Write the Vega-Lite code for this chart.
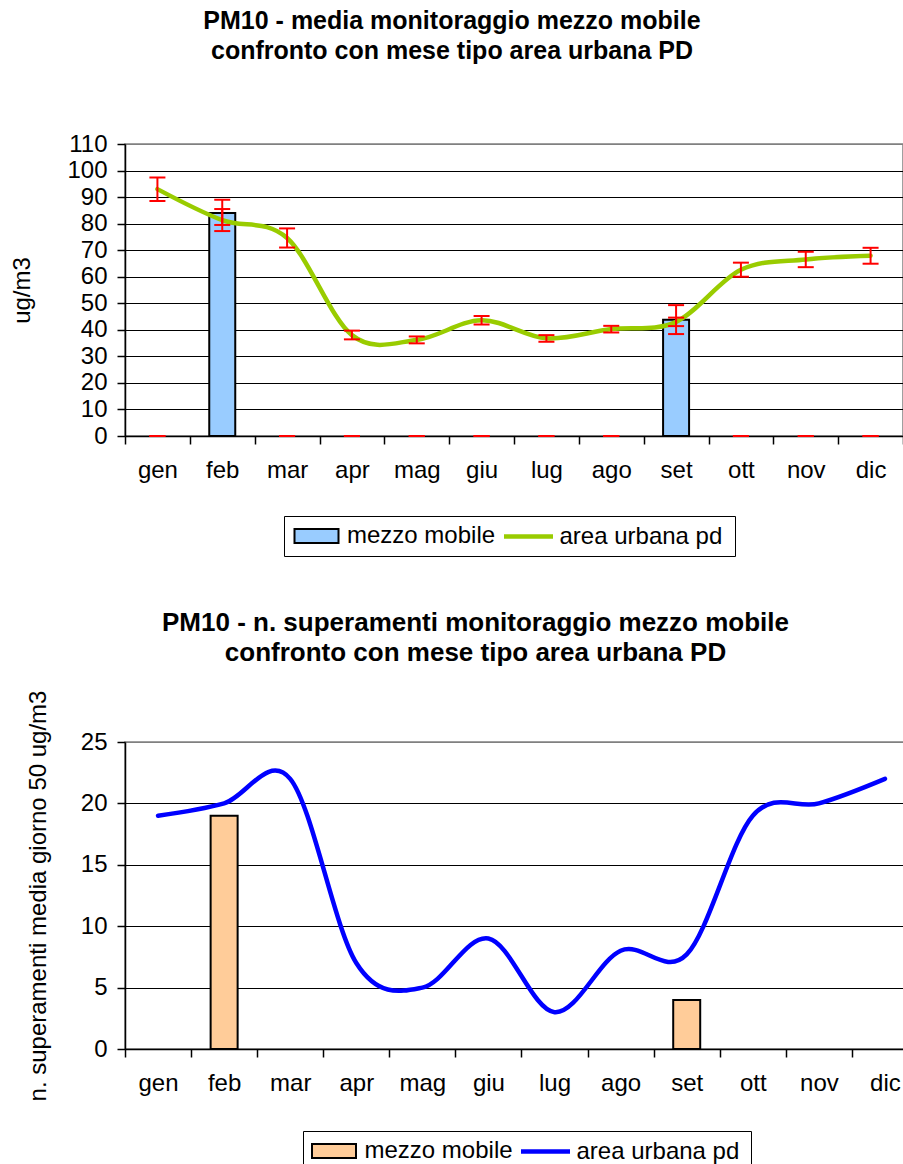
{
  "$schema": "https://vega.github.io/schema/vega-lite/v6.json",
  "padding": {"left": 9, "top": 8, "right": 0, "bottom": 0},
  "background": "white",
  "config": {
    "font": "Liberation Sans",
    "view": {"stroke": "#808080", "strokeWidth": 1.5},
    "axis": {"labelColor": "black", "titleColor": "black", "domainColor": "black", "tickColor": "black", "labelFontSize": 24, "titleFontSize": 24, "titleFontWeight": "normal", "domainWidth": 1.5, "tickWidth": 1.5, "labelOverlap": false},
    "legend": {"labelFontSize": 24, "labelColor": "black", "labelLimit": 0, "padding": 8, "symbolSize": 400, "labelOffset": 18.5, "direction": "horizontal", "orient": "none"}
  },
  "bounds": "flush",
  "spacing": 306,
  "resolve": {"scale": {"fill": "independent", "stroke": "independent"}, "legend": {"fill": "independent", "stroke": "independent"}},
  "vconcat": [
    {
      "width": 778,
      "height": 292,
      "title": {"text": ["PM10 -  media monitoraggio mezzo mobile", "confronto con mese tipo area urbana PD"], "fontSize": 25, "fontWeight": "bold", "anchor": "middle", "frame": "group", "dx": -62, "offset": 68, "lineHeight": 30, "color": "black"},
      "data": {"values": [
        {"mese": "gen", "mobile": 0, "m_lo": 0, "m_hi": 0, "urbana": 93.0, "u_lo": 88.5, "u_hi": 97.4},
        {"mese": "feb", "mobile": 84, "m_lo": 79.5, "m_hi": 89.0, "urbana": 81.3, "u_lo": 77.2, "u_hi": 85.5},
        {"mese": "mar", "mobile": 0, "m_lo": 0, "m_hi": 0, "urbana": 74.6, "u_lo": 71.0, "u_hi": 78.2},
        {"mese": "apr", "mobile": 0, "m_lo": 0, "m_hi": 0, "urbana": 38.0, "u_lo": 36.4, "u_hi": 39.7},
        {"mese": "mag", "mobile": 0, "m_lo": 0, "m_hi": 0, "urbana": 36.2, "u_lo": 34.9, "u_hi": 37.5},
        {"mese": "giu", "mobile": 0, "m_lo": 0, "m_hi": 0, "urbana": 43.6, "u_lo": 42.0, "u_hi": 45.2},
        {"mese": "lug", "mobile": 0, "m_lo": 0, "m_hi": 0, "urbana": 36.8, "u_lo": 35.5, "u_hi": 38.0},
        {"mese": "ago", "mobile": 0, "m_lo": 0, "m_hi": 0, "urbana": 40.3, "u_lo": 39.0, "u_hi": 41.5},
        {"mese": "set", "mobile": 43.8, "m_lo": 38.4, "m_hi": 49.3, "urbana": 43.0, "u_lo": 41.4, "u_hi": 44.6},
        {"mese": "ott", "mobile": 0, "m_lo": 0, "m_hi": 0, "urbana": 62.6, "u_lo": 60.0, "u_hi": 65.3},
        {"mese": "nov", "mobile": 0, "m_lo": 0, "m_hi": 0, "urbana": 66.5, "u_lo": 63.6, "u_hi": 69.4},
        {"mese": "dic", "mobile": 0, "m_lo": 0, "m_hi": 0, "urbana": 67.9, "u_lo": 64.9, "u_hi": 70.9}
      ]},
      "encoding": {
        "x": {"field": "mese", "type": "ordinal", "sort": ["gen", "feb", "mar", "apr", "mag", "giu", "lug", "ago", "set", "ott", "nov", "dic"], "scale": {"paddingInner": 0, "paddingOuter": 0}, "axis": {"title": null, "labelAngle": 0, "tickBand": "extent", "tickSize": 8, "labelPadding": 14, "grid": false}}
      },
      "layer": [
        {
          "transform": [{"filter": "datum.mobile > 0"}],
          "mark": {"type": "bar", "size": 26, "stroke": "black", "strokeWidth": 2},
          "encoding": {
            "y": {"field": "mobile", "type": "quantitative", "title": "ug/m3", "scale": {"domain": [0, 110], "nice": false}, "axis": {"values": [0, 10, 20, 30, 40, 50, 60, 70, 80, 90, 100, 110], "grid": true, "gridColor": {"condition": {"test": "datum.value === 110", "value": "#808080"}, "value": "black"}, "gridWidth": 1, "tickSize": 8, "labelPadding": 10, "titleX": -103, "titleAngle": -90, "titleBaseline": "middle", "titleAlign": "center"}},
            "fill": {"datum": "mezzo mobile", "type": "nominal", "scale": {"domain": ["mezzo mobile"], "range": ["#99CCFF"]},
              "legend": {"legendX": 159, "legendY": 372, "title": " ", "titleOrient": "right", "titleFontSize": 1, "titlePadding": 232, "strokeColor": "black", "symbolType": "M-2.2,-0.7H2.2V0.7H-2.2Z", "symbolStrokeColor": "black", "symbolStrokeWidth": 2, "symbolOffset": 12.5}}
          }
        },
        {
          "mark": {"type": "line", "interpolate": "cardinal", "strokeWidth": 4.5, "strokeCap": "round"},
          "encoding": {
            "y": {"field": "urbana", "type": "quantitative", "title": "ug/m3", "scale": {"domain": [0, 110], "nice": false}, "axis": {"values": [0, 10, 20, 30, 40, 50, 60, 70, 80, 90, 100, 110], "grid": true, "gridColor": {"condition": {"test": "datum.value === 110", "value": "#808080"}, "value": "black"}, "gridWidth": 1, "tickSize": 8, "labelPadding": 10, "titleX": -103, "titleAngle": -90, "titleBaseline": "middle", "titleAlign": "center"}},
            "stroke": {"datum": "area urbana pd", "type": "nominal", "scale": {"domain": ["area urbana pd"], "range": ["#99CC00"]},
              "legend": {"legendX": 370, "legendY": 372, "title": null, "symbolType": "M-2.45,0H2.45", "symbolStrokeWidth": 4.5, "symbolOffset": 13}}
          }
        },
        {
          "mark": {"type": "rule", "color": "#FF0000", "strokeWidth": 2},
          "encoding": {
            "y": {"field": "u_lo", "type": "quantitative", "title": "ug/m3", "scale": {"domain": [0, 110], "nice": false}, "axis": {"values": [0, 10, 20, 30, 40, 50, 60, 70, 80, 90, 100, 110], "grid": true, "gridColor": {"condition": {"test": "datum.value === 110", "value": "#808080"}, "value": "black"}, "gridWidth": 1, "tickSize": 8, "labelPadding": 10, "titleX": -103, "titleAngle": -90, "titleBaseline": "middle", "titleAlign": "center"}},
            "y2": {"field": "u_hi"}
          }
        },
        {
          "transform": [{"filter": "datum.mobile > 0"}],
          "mark": {"type": "rule", "color": "#FF0000", "strokeWidth": 2},
          "encoding": {
            "y": {"field": "m_lo", "type": "quantitative", "title": "ug/m3", "scale": {"domain": [0, 110], "nice": false}, "axis": {"values": [0, 10, 20, 30, 40, 50, 60, 70, 80, 90, 100, 110], "grid": true, "gridColor": {"condition": {"test": "datum.value === 110", "value": "#808080"}, "value": "black"}, "gridWidth": 1, "tickSize": 8, "labelPadding": 10, "titleX": -103, "titleAngle": -90, "titleBaseline": "middle", "titleAlign": "center"}},
            "y2": {"field": "m_hi"}
          }
        },
        {
          "transform": [{"fold": ["u_lo", "u_hi", "m_lo", "m_hi"], "as": ["key", "val"]}],
          "mark": {"type": "tick", "orient": "horizontal", "color": "#FF0000", "size": 16, "thickness": 2, "opacity": 1},
          "encoding": {
            "y": {"field": "val", "type": "quantitative", "title": "ug/m3", "scale": {"domain": [0, 110], "nice": false}, "axis": {"values": [0, 10, 20, 30, 40, 50, 60, 70, 80, 90, 100, 110], "grid": true, "gridColor": {"condition": {"test": "datum.value === 110", "value": "#808080"}, "value": "black"}, "gridWidth": 1, "tickSize": 8, "labelPadding": 10, "titleX": -103, "titleAngle": -90, "titleBaseline": "middle", "titleAlign": "center"}}
          }
        }
      ]
    },
    {
      "width": 793,
      "height": 307,
      "title": {"text": ["PM10 - n. superamenti monitoraggio mezzo mobile", "confronto con mese tipo area urbana PD"], "fontSize": 26, "fontWeight": "bold", "anchor": "middle", "frame": "group", "dx": -46, "offset": 24, "lineHeight": 30, "color": "black"},
      "data": {"values": [
        {"mese": "gen", "mobile": 0, "urbana": 19},
        {"mese": "feb", "mobile": 19, "urbana": 20},
        {"mese": "mar", "mobile": 0, "urbana": 22},
        {"mese": "apr", "mobile": 0, "urbana": 7},
        {"mese": "mag", "mobile": 0, "urbana": 5},
        {"mese": "giu", "mobile": 0, "urbana": 9},
        {"mese": "lug", "mobile": 0, "urbana": 3},
        {"mese": "ago", "mobile": 0, "urbana": 8},
        {"mese": "set", "mobile": 4, "urbana": 7.7},
        {"mese": "ott", "mobile": 0, "urbana": 19},
        {"mese": "nov", "mobile": 0, "urbana": 20},
        {"mese": "dic", "mobile": 0, "urbana": 22}
      ]},
      "encoding": {
        "x": {"field": "mese", "type": "ordinal", "sort": ["gen", "feb", "mar", "apr", "mag", "giu", "lug", "ago", "set", "ott", "nov", "dic"], "scale": {"paddingInner": 0, "paddingOuter": 0}, "axis": {"title": null, "labelAngle": 0, "tickBand": "extent", "tickSize": 8, "labelPadding": 14, "grid": false}}
      },
      "layer": [
        {
          "transform": [{"filter": "datum.mobile > 0"}],
          "mark": {"type": "bar", "size": 27, "stroke": "black", "strokeWidth": 2},
          "encoding": {
            "y": {"field": "mobile", "type": "quantitative", "title": "n. superamenti media giorno 50 ug/m3", "scale": {"domain": [0, 25], "nice": false}, "axis": {"values": [0, 5, 10, 15, 20, 25], "grid": true, "gridColor": {"condition": {"test": "datum.value === 25", "value": "#808080"}, "value": "black"}, "gridWidth": 1, "tickSize": 8, "labelPadding": 10, "titleX": -87, "titleAngle": -90, "titleBaseline": "middle", "titleAlign": "center"}},
            "fill": {"datum": "mezzo mobile", "type": "nominal", "scale": {"domain": ["mezzo mobile"], "range": ["#FFCC99"]},
              "legend": {"legendX": 178, "legendY": 389, "title": " ", "titleOrient": "right", "titleFontSize": 1, "titlePadding": 230, "strokeColor": "black", "symbolType": "M-2.2,-0.7H2.2V0.7H-2.2Z", "symbolStrokeColor": "black", "symbolStrokeWidth": 2, "symbolOffset": 11}}
          }
        },
        {
          "mark": {"type": "line", "interpolate": "cardinal", "strokeWidth": 4.5, "strokeCap": "round"},
          "encoding": {
            "y": {"field": "urbana", "type": "quantitative", "title": "n. superamenti media giorno 50 ug/m3", "scale": {"domain": [0, 25], "nice": false}, "axis": {"values": [0, 5, 10, 15, 20, 25], "grid": true, "gridColor": {"condition": {"test": "datum.value === 25", "value": "#808080"}, "value": "black"}, "gridWidth": 1, "tickSize": 8, "labelPadding": 10, "titleX": -87, "titleAngle": -90, "titleBaseline": "middle", "titleAlign": "center"}},
            "stroke": {"datum": "area urbana pd", "type": "nominal", "scale": {"domain": ["area urbana pd"], "range": ["#0000FF"]},
              "legend": {"legendX": 389, "legendY": 389, "title": null, "symbolType": "M-2.45,0H2.45", "symbolStrokeWidth": 4.5, "symbolOffset": 11}}
          }
        }
      ]
    }
  ]
}
